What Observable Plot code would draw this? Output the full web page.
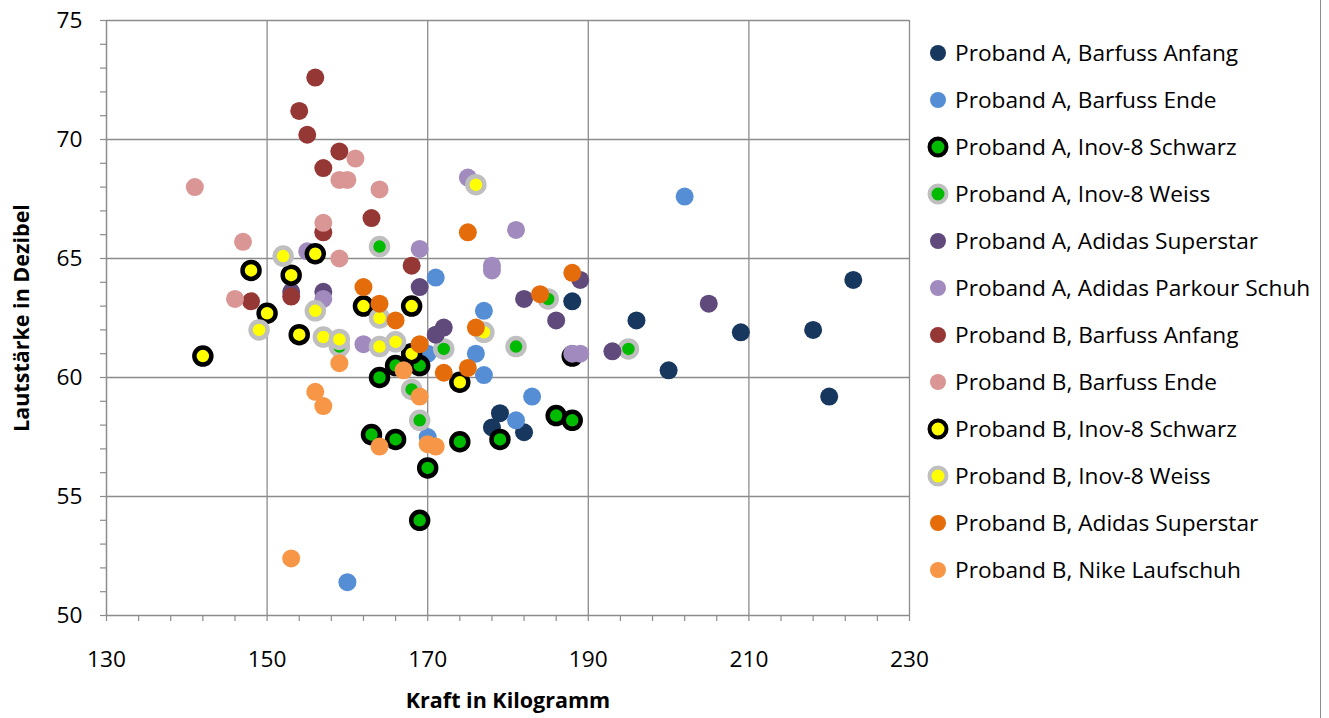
<!DOCTYPE html>
<html>
<head>
<meta charset="utf-8">
<script src="https://cdn.jsdelivr.net/npm/d3@7"></script>
<script src="https://cdn.jsdelivr.net/npm/@observablehq/plot@0.6"></script>
<style>
  body { margin: 0; background: #fff; }
  #wrap { position: relative; width: 1329px; height: 718px; overflow: hidden; background: #fff; font-family: "Open Sans", sans-serif; }
  #legend { position: absolute; left: 925px; top: 29px; }
  .row { height: 47px; display: flex; align-items: center; font-size: 22.7px; color: #000; white-space: nowrap; }
  .row svg { margin-right: 4px; }
  #border { position: absolute; left: 1320px; top: 0; width: 0; height: 718px; border-left: 1.5px solid #8c8c8c; }
</style>
</head>
<body>
<div id="wrap"><div id="legend"></div><div id="border"></div></div>
<script>
const xTicks = [130, 150, 170, 190, 210, 230];
const yTicks = [50, 55, 60, 65, 70, 75];
const xMinor = d3.range(130, 231, 4);
const yMinor = d3.range(50, 76, 1);

// Kraft (kg), Lautstärke (dB)
const aBarfussAnfang = [[223,64.1],[218,62.0],[220,59.2],[209,61.9],[200,60.3],[196,62.4],[188,63.2],[179,58.5],[178,57.9],[182,57.7]];
const aBarfussEnde = [[202,67.6],[160,51.4],[171,64.2],[177,62.8],[176,61.0],[177,60.1],[170,61.0],[183,59.2],[181,58.2],[170,57.5]];
const aInovSchwarz = [[169,54.0],[170,56.2],[174,57.3],[179,57.4],[186,58.4],[188,58.2],[166,57.4],[163,57.6],[164,60.0],[166,60.5],[169,60.5],[188,60.9]];
const aInovWeiss = [[164,65.5],[195,61.2],[185,63.3],[181,61.3],[172,61.2],[169,58.2],[168,59.5],[159,61.3]];
const aAdidasSuperstar = [[205,63.1],[193,61.1],[189,64.1],[182,63.3],[186,62.4],[172,62.1],[171,61.8],[169,63.8],[157,63.6],[153,63.6]];
const aAdidasParkour = [[175,68.4],[181,66.2],[169,65.4],[178,64.7],[178,64.5],[188,61.0],[189,61.0],[155,65.3],[157,63.3],[162,61.4]];
const bBarfussAnfang = [[156,72.6],[154,71.2],[155,70.2],[159,69.5],[157,68.8],[163,66.7],[157,66.1],[153,63.4],[148,63.2],[168,64.7]];
const bBarfussEnde = [[141,68.0],[161,69.2],[159,68.3],[160,68.3],[164,67.9],[157,66.5],[147,65.7],[159,65.0],[146,63.3]];
const bInovSchwarz = [[142,60.9],[148,64.5],[150,62.7],[153,64.3],[156,65.2],[154,61.8],[162,63.0],[168,63.0],[168,61.0],[174,59.8]];
const bInovWeiss = [[176,68.1],[152,65.1],[149,62.0],[156,62.8],[157,61.7],[159,61.6],[164,62.5],[164,61.3],[166,61.5],[177,61.9]];
const bAdidasSuperstar = [[175,66.1],[188,64.4],[184,63.5],[176,62.1],[162,63.8],[164,63.1],[166,62.4],[169,61.4],[172,60.2],[175,60.4]];
const bNikeLaufschuh = [[153,52.4],[156,59.4],[157,58.8],[159,60.6],[164,57.1],[167,60.3],[169,59.2],[170,57.2],[171,57.1]];

const seriesNames = [
  "Proband A, Barfuss Anfang", "Proband A, Barfuss Ende", "Proband A, Inov-8 Schwarz",
  "Proband A, Inov-8 Weiss", "Proband A, Adidas Superstar", "Proband A, Adidas Parkour Schuh",
  "Proband B, Barfuss Anfang", "Proband B, Barfuss Ende", "Proband B, Inov-8 Schwarz",
  "Proband B, Inov-8 Weiss", "Proband B, Adidas Superstar", "Proband B, Nike Laufschuh"
];
const seriesData = [aBarfussAnfang, aBarfussEnde, aInovSchwarz, aInovWeiss, aAdidasSuperstar, aAdidasParkour,
  bBarfussAnfang, bBarfussEnde, bInovSchwarz, bInovWeiss, bAdidasSuperstar, bNikeLaufschuh];
const fills = ["#17375E", "#558ED5", "#00BB00", "#00BB00", "#604A7B", "#A18BBE",
  "#953735", "#D99694", "#FFFF00", "#FFFF00", "#E46C0A", "#F79646"];
const strokes = [null, null, "#000000", "#BFBFBF", null, null, null, null, "#000000", "#BFBFBF", null, null];

const gridColor = "#8c8c8c";
const font = "Open Sans, sans-serif";

const pointMarks = seriesData.map((data, i) => strokes[i]
  ? Plot.dot(data, {x: d => d[0], y: d => d[1], r: 8.5, fill: fills[i], stroke: strokes[i], strokeWidth: 4.5})
  : Plot.dot(data, {x: d => d[0], y: d => d[1], r: 9, fill: fills[i], stroke: "none"}));

const chart = Plot.plot({
  width: 1329,
  height: 718,
  marginLeft: 106,
  marginRight: 420,
  marginTop: 20,
  marginBottom: 103,
  style: {fontFamily: font, background: "transparent", overflow: "visible"},
  x: {domain: [130, 230], label: null},
  y: {domain: [50, 75], label: null},
  marks: [
    Plot.gridX(xTicks.slice(1), {stroke: gridColor, strokeOpacity: 1, strokeWidth: 1.3}),
    Plot.gridY(yTicks.slice(1), {stroke: gridColor, strokeOpacity: 1, strokeWidth: 1.3}),
    Plot.axisX(xMinor, {tickSize: 6, tickFormat: () => "", stroke: gridColor, strokeWidth: 1.2}),
    Plot.axisY(yMinor, {tickSize: 6, tickFormat: () => "", stroke: gridColor, strokeWidth: 1.2}),
    Plot.axisX(xTicks, {tickSize: 0, tickPadding: 35, fontSize: 22.7, fill: "#000"}),
    Plot.axisY(yTicks, {tickSize: 0, tickPadding: 24, fontSize: 22.7, fill: "#000"}),
    Plot.ruleX([130], {stroke: gridColor, strokeWidth: 1.5}),
    Plot.ruleY([50], {stroke: gridColor, strokeWidth: 1.5}),
    ...pointMarks,
    Plot.text(["Kraft in Kilogramm"], {frameAnchor: "bottom", dy: 92, textAnchor: "middle", fontSize: 21.5, fontWeight: "bold", fill: "#000"}),
    Plot.text(["Lautstärke in Dezibel"], {frameAnchor: "left", dx: -84, textAnchor: "middle", rotate: -90, fontSize: 21.5, fontWeight: "bold", fill: "#000"})
  ]
});

const wrap = document.getElementById("wrap");
wrap.insertBefore(chart, wrap.firstChild);

const legend = document.getElementById("legend");
seriesNames.forEach((name, i) => {
  const row = document.createElement("div");
  row.className = "row";
  const marker = strokes[i]
    ? `<svg width="26" height="26"><circle cx="13" cy="13" r="8.5" fill="${fills[i]}" stroke="${strokes[i]}" stroke-width="4"/></svg>`
    : `<svg width="26" height="26"><circle cx="13" cy="13" r="8" fill="${fills[i]}"/></svg>`;
  row.innerHTML = marker + `<span>${name}</span>`;
  legend.appendChild(row);
});
</script>
</body>
</html>
